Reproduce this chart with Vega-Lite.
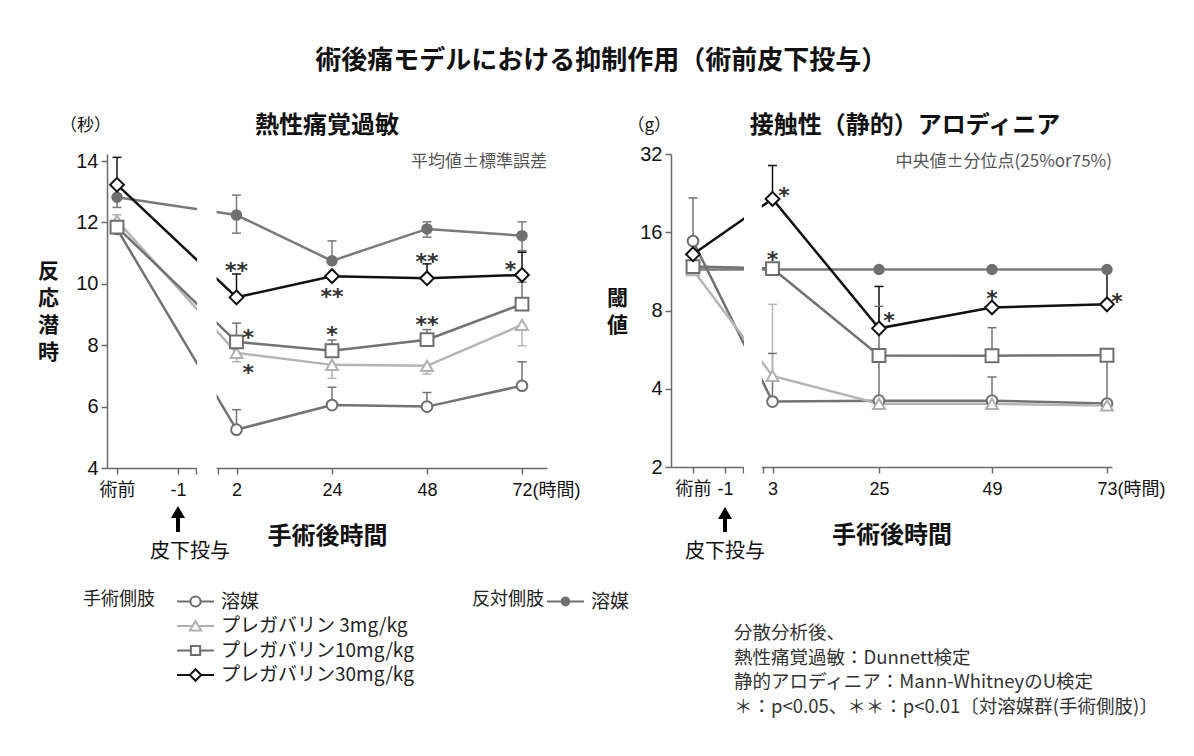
{
  "$schema": "https://vega.github.io/schema/vega-lite/v6.json",
  "background": "#ffffff",
  "padding": {"left": 37, "top": 48, "right": 5, "bottom": 5},
  "title": {"text": "術後痛モデルにおける抑制作用（術前皮下投与）", "font": "Noto Sans CJK JP", "fontSize": 26, "fontWeight": "bold", "color": "#111111", "anchor": "middle", "offset": 40},
  "datasets": {
    "heat": [
      {"series": "反対側肢 溶媒", "t": -2, "value": 12.82, "lo": 12.49, "hi": 13.15},
      {"series": "反対側肢 溶媒", "t": 2, "value": 12.24, "lo": 11.65, "hi": 12.89},
      {"series": "反対側肢 溶媒", "t": 24, "value": 10.75, "lo": 10.75, "hi": 11.40},
      {"series": "反対側肢 溶媒", "t": 48, "value": 11.79, "lo": 11.52, "hi": 12.02},
      {"series": "反対側肢 溶媒", "t": 72, "value": 11.57, "lo": 11.08, "hi": 12.02},
      {"series": "手術側肢 溶媒", "t": -2, "value": 11.79},
      {"series": "手術側肢 溶媒", "t": 2, "value": 5.25, "lo": 5.25, "hi": 5.90},
      {"series": "手術側肢 溶媒", "t": 24, "value": 6.05, "lo": 6.05, "hi": 6.63},
      {"series": "手術側肢 溶媒", "t": 48, "value": 6.00, "lo": 6.00, "hi": 6.46},
      {"series": "手術側肢 溶媒", "t": 72, "value": 6.68, "lo": 6.68, "hi": 7.46},
      {"series": "手術側肢 プレガバリン 3mg/kg", "t": -2, "value": 12.06, "lo": 12.06, "hi": 12.25},
      {"series": "手術側肢 プレガバリン 3mg/kg", "t": 2, "value": 7.75, "lo": 7.46, "hi": 7.75},
      {"series": "手術側肢 プレガバリン 3mg/kg", "t": 24, "value": 7.36, "lo": 6.92, "hi": 7.36},
      {"series": "手術側肢 プレガバリン 3mg/kg", "t": 48, "value": 7.33, "lo": 7.06, "hi": 7.33},
      {"series": "手術側肢 プレガバリン 3mg/kg", "t": 72, "value": 8.66, "lo": 7.98, "hi": 8.66},
      {"series": "手術側肢 プレガバリン10mg/kg", "t": -2, "value": 11.85},
      {"series": "手術側肢 プレガバリン10mg/kg", "t": 2, "value": 8.11, "lo": 8.11, "hi": 8.72},
      {"series": "手術側肢 プレガバリン10mg/kg", "t": 24, "value": 7.82, "lo": 7.82, "hi": 8.17},
      {"series": "手術側肢 プレガバリン10mg/kg", "t": 48, "value": 8.18, "lo": 8.18, "hi": 8.51},
      {"series": "手術側肢 プレガバリン10mg/kg", "t": 72, "value": 9.34, "lo": 9.34, "hi": 10.05},
      {"series": "手術側肢 プレガバリン30mg/kg", "t": -2, "value": 13.23, "lo": 13.23, "hi": 14.12},
      {"series": "手術側肢 プレガバリン30mg/kg", "t": 2, "value": 9.56, "lo": 9.56, "hi": 10.32},
      {"series": "手術側肢 プレガバリン30mg/kg", "t": 24, "value": 10.25},
      {"series": "手術側肢 プレガバリン30mg/kg", "t": 48, "value": 10.18, "lo": 10.18, "hi": 10.65},
      {"series": "手術側肢 プレガバリン30mg/kg", "t": 72, "value": 10.29, "lo": 10.29, "hi": 11.03}
    ],
    "allo": [
      {"series": "反対側肢 溶媒", "t": -2, "value": 11.5},
      {"series": "反対側肢 溶媒", "t": 3, "value": 11.5},
      {"series": "反対側肢 溶媒", "t": 25, "value": 11.5},
      {"series": "反対側肢 溶媒", "t": 49, "value": 11.5},
      {"series": "反対側肢 溶媒", "t": 73, "value": 11.5},
      {"series": "手術側肢 溶媒", "t": -2, "value": 14.8, "lo": 14.8, "hi": 21.7},
      {"series": "手術側肢 溶媒", "t": 3, "value": 3.57, "lo": 3.57, "hi": 5.47},
      {"series": "手術側肢 溶媒", "t": 25, "value": 3.6},
      {"series": "手術側肢 溶媒", "t": 49, "value": 3.6, "lo": 3.6, "hi": 4.44},
      {"series": "手術側肢 溶媒", "t": 73, "value": 3.51},
      {"series": "手術側肢 プレガバリン 3mg/kg", "t": -2, "value": 11.45},
      {"series": "手術側肢 プレガバリン 3mg/kg", "t": 3, "value": 4.48, "lo": 4.48, "hi": 8.45},
      {"series": "手術側肢 プレガバリン 3mg/kg", "t": 25, "value": 3.5},
      {"series": "手術側肢 プレガバリン 3mg/kg", "t": 49, "value": 3.5},
      {"series": "手術側肢 プレガバリン 3mg/kg", "t": 73, "value": 3.45},
      {"series": "手術側肢 プレガバリン10mg/kg", "t": -2, "value": 11.8},
      {"series": "手術側肢 プレガバリン10mg/kg", "t": 3, "value": 11.6},
      {"series": "手術側肢 プレガバリン10mg/kg", "t": 25, "value": 5.37, "lo": 3.6, "hi": 8.3},
      {"series": "手術側肢 プレガバリン10mg/kg", "t": 49, "value": 5.36, "lo": 5.36, "hi": 6.87},
      {"series": "手術側肢 プレガバリン10mg/kg", "t": 73, "value": 5.38, "lo": 3.5, "hi": 5.38},
      {"series": "手術側肢 プレガバリン30mg/kg", "t": -2, "value": 13.16},
      {"series": "手術側肢 プレガバリン30mg/kg", "t": 3, "value": 21.5, "lo": 21.5, "hi": 28.9},
      {"series": "手術側肢 プレガバリン30mg/kg", "t": 25, "value": 6.83, "lo": 6.83, "hi": 9.9},
      {"series": "手術側肢 プレガバリン30mg/kg", "t": 49, "value": 8.22},
      {"series": "手術側肢 プレガバリン30mg/kg", "t": 73, "value": 8.45, "lo": 8.45, "hi": 11.4}
    ],
    "heatStars": [
      {"t": 2, "value": 10.61, "label": "**"},
      {"t": 24, "value": 9.78, "label": "**"},
      {"t": 48, "value": 10.92, "label": "**"},
      {"t": 69.1, "value": 10.65, "label": "*"},
      {"t": 4.72, "value": 8.44, "label": "*"},
      {"t": 4.72, "value": 7.28, "label": "*"},
      {"t": 24, "value": 8.53, "label": "*"},
      {"t": 48, "value": 8.85, "label": "**"}
    ],
    "alloStars": [
      {"t": 5.4, "value": 23.3, "label": "*"},
      {"t": 3, "value": 13.2, "label": "*"},
      {"t": 27.1, "value": 7.69, "label": "*"},
      {"t": 49, "value": 9.34, "label": "*"},
      {"t": 75.1, "value": 9.12, "label": "*"}
    ],
    "heatBreak": [{"t": -0.02, "t2": 0.98, "value": 3.85, "value2": 14.3}],
    "alloBreak": [{"t": 0.6, "t2": 2.1, "value": 1.9, "value2": 33}],
    "heatDosing": [{"t": -1, "lo": 1.915, "hi": 2.40, "value": 2.566, "labelAt": 1.263, "label": "皮下投与"}],
    "alloDosing": [{"t": -1, "lo": 1.124, "hi": 1.28, "value": 1.331, "labelAt": 0.942, "label": "皮下投与"}],
    "heatTitle": [{"t": 22.85, "value": 15.14, "label": "熱性痛覚過敏"}],
    "heatUnit": [{"t": -2.18, "value": 15.14, "label": "（秒）"}],
    "heatNote": [{"t": 78.3, "value": 13.97, "label": "平均値±標準誤差"}],
    "alloTitle": [{"t": 30.52, "value": 41.0, "label": "接触性（静的）アロディニア"}],
    "alloUnit": [{"t": -2.69, "value": 41.0, "label": "（g）"}],
    "alloNote": [{"t": 74.05, "value": 29.81, "label": "中央値±分位点(25%or75%)"}],
    "stats": [{"t": -0.242, "value": 0.497, "label": ["分散分析後、", "熱性痛覚過敏：Dunnett検定", "静的アロディニア：Mann-WhitneyのU検定", "＊：p<0.05、＊＊：p<0.01〔対溶媒群(手術側肢)〕"]}],
    "legendSurgical": [{"treatment": "溶媒"}, {"treatment": "プレガバリン 3mg/kg"}, {"treatment": "プレガバリン10mg/kg"}, {"treatment": "プレガバリン30mg/kg"}],
    "legendContra": [{"treatment": "溶媒"}]
  },
  "spacing": 124,
  "bounds": "flush",
  "hconcat": [
    {
      "width": 440,
      "height": 314,
      "layer": [
        {
          "data": {"name": "heat"},
          "encoding": {
            "x": {
              "field": "t", "type": "quantitative",
              "scale": {"type": "linear", "domain": [-2.18, -2, -1, 2, 24, 48, 72, 78.3], "range": [0, 10, 71, 129.5, 225, 320, 415, 440], "nice": false, "zero": false},
              "axis": {
                "values": [-2, -1, -0.08, 1.05, 2, 24, 48, 72],
                "labelExpr": "datum.value == -2 ? '術前' : datum.value == -1 ? '-1' : (datum.value > -1 && datum.value < 1.5) ? '' : datum.value == 72 ? '72(時間)' : datum.label",
                "labelAlign": {"condition": {"test": "datum.value == 72", "value": "left"}, "value": "center"},
                "labelOffset": {"condition": {"test": "datum.value == 72", "value": -10}, "value": 0},
                "title": "手術後時間", "titleFont": "Noto Sans CJK JP", "titleFontSize": 24, "titleFontWeight": "bold", "titlePadding": 25, "titleColor": "#111111",
                "labelFont": "Liberation Sans, Noto Sans CJK JP", "labelFontSize": 18, "labelPadding": 7, "labelColor": "#111111",
                "labelFlush": false, "labelOverlap": false, "labelBound": false,
                "tickSize": 6, "tickWidth": 1.5, "tickColor": "#6a6a6a", "domainColor": "#6a6a6a", "domainWidth": 1.5, "grid": false
              }
            },
            "y": {
              "field": "value", "type": "quantitative",
              "scale": {"domain": [4, 14.23], "nice": false, "zero": false},
              "axis": {
                "values": [4, 6, 8, 10, 12, 14],
                "title": ["反", "応", "潜", "時"], "titleAngle": 0, "titleAlign": "center", "titleBaseline": "top", "titleX": -59, "titleY": 106,
                "titleFont": "Noto Sans CJK JP", "titleFontSize": 21, "titleFontWeight": "bold", "titleLineHeight": 27, "titleColor": "#111111",
                "labelFont": "Liberation Sans", "labelFontSize": 20, "labelPadding": 3, "labelColor": "#111111", "labelFlush": false,
                "tickSize": 6, "tickWidth": 1.5, "tickColor": "#6a6a6a", "domainColor": "#6a6a6a", "domainWidth": 1.5, "grid": false
              }
            }
          },
          "layer": [
            {
              "mark": {"type": "line", "strokeWidth": 2.5},
              "encoding": {
                "color": {"field": "series", "type": "nominal", "legend": null, "scale": {"domain": ["反対側肢 溶媒", "手術側肢 溶媒", "手術側肢 プレガバリン 3mg/kg", "手術側肢 プレガバリン10mg/kg", "手術側肢 プレガバリン30mg/kg"], "range": ["#7a7a7a", "#727272", "#b5b5b5", "#727272", "#111111"]}},
                "order": {"field": "t", "type": "quantitative"}
              }
            },
            {
              "data": {"name": "heatBreak"},
              "mark": {"type": "rect", "fill": "#ffffff"},
              "encoding": {"x2": {"field": "t2"}, "y2": {"field": "value2"}}
            },
            {
              "transform": [{"filter": "isValid(datum.lo)"}],
              "mark": {"type": "rule", "strokeWidth": 1.5},
              "encoding": {
                "y": {"field": "lo", "type": "quantitative"}, "y2": {"field": "hi"},
                "color": {"field": "series", "type": "nominal", "legend": null}
              }
            },
            {
              "transform": [{"filter": "isValid(datum.lo) && datum.lo < datum.value"}],
              "mark": {"type": "tick", "orient": "horizontal", "size": 9, "thickness": 1.5, "opacity": 1},
              "encoding": {"y": {"field": "lo", "type": "quantitative"}, "color": {"field": "series", "type": "nominal", "legend": null}}
            },
            {
              "transform": [{"filter": "isValid(datum.hi) && datum.hi > datum.value"}],
              "mark": {"type": "tick", "orient": "horizontal", "size": 9, "thickness": 1.5, "opacity": 1},
              "encoding": {"y": {"field": "hi", "type": "quantitative"}, "color": {"field": "series", "type": "nominal", "legend": null}}
            },
            {
              "mark": {"type": "point", "opacity": 1, "strokeWidth": 2},
              "encoding": {
                "shape": {"field": "series", "type": "nominal", "legend": null, "scale": {"domain": ["反対側肢 溶媒", "手術側肢 溶媒", "手術側肢 プレガバリン 3mg/kg", "手術側肢 プレガバリン10mg/kg", "手術側肢 プレガバリン30mg/kg"], "range": ["circle", "circle", "triangle-up", "square", "diamond"]}},
                "stroke": {"field": "series", "type": "nominal", "legend": null, "scale": {"domain": ["反対側肢 溶媒", "手術側肢 溶媒", "手術側肢 プレガバリン 3mg/kg", "手術側肢 プレガバリン10mg/kg", "手術側肢 プレガバリン30mg/kg"], "range": ["#707070", "#6e6e6e", "#b0b0b0", "#6e6e6e", "#111111"]}},
                "fill": {"field": "series", "type": "nominal", "legend": null, "scale": {"domain": ["反対側肢 溶媒", "手術側肢 溶媒", "手術側肢 プレガバリン 3mg/kg", "手術側肢 プレガバリン10mg/kg", "手術側肢 プレガバリン30mg/kg"], "range": ["#707070", "#ffffff", "#ffffff", "#ffffff", "#ffffff"]}},
                "size": {"field": "series", "type": "nominal", "legend": null, "scale": {"domain": ["反対側肢 溶媒", "手術側肢 溶媒", "手術側肢 プレガバリン 3mg/kg", "手術側肢 プレガバリン10mg/kg", "手術側肢 プレガバリン30mg/kg"], "range": [90, 190, 190, 150, 170]}}
              }
            },
            {
              "data": {"name": "heatStars"},
              "mark": {"type": "text", "font": "DejaVu Sans", "fontSize": 22, "fontWeight": "bold", "color": "#333333", "baseline": "middle", "align": "center", "dy": 6},
              "encoding": {"text": {"field": "label"}}
            },
            {
              "data": {"name": "heatNote"},
              "mark": {"type": "text", "align": "right", "baseline": "middle", "fontSize": 17, "color": "#555555"},
              "encoding": {"text": {"field": "label"}}
            },
            {
              "data": {"name": "heatTitle"},
              "mark": {"type": "text", "align": "center", "baseline": "middle", "fontSize": 24, "fontWeight": "bold", "color": "#111111"},
              "encoding": {"text": {"field": "label"}}
            },
            {
              "data": {"name": "heatUnit"},
              "mark": {"type": "text", "align": "right", "baseline": "middle", "fontSize": 17, "dx": 4, "color": "#111111"},
              "encoding": {"text": {"field": "label"}}
            },
            {
              "data": {"name": "heatDosing"},
              "layer": [
                {"mark": {"type": "rule", "strokeWidth": 4, "color": "#000000"}, "encoding": {"y": {"field": "lo", "type": "quantitative"}, "y2": {"field": "hi"}}},
                {"mark": {"type": "point", "shape": "triangle-up", "filled": true, "size": 196, "color": "#000000", "opacity": 1}},
                {"mark": {"type": "text", "fontSize": 20, "baseline": "middle", "align": "center", "dx": 12, "color": "#111111"}, "encoding": {"y": {"field": "labelAt", "type": "quantitative"}, "text": {"field": "label"}}}
              ]
            }
          ]
        },
        {
          "data": {"name": "legendSurgical"},
          "transform": [{"filter": "false"}],
          "mark": {"type": "point", "opacity": 1},
          "encoding": {
            "shape": {"field": "treatment", "type": "nominal",
              "scale": {"domain": ["溶媒", "プレガバリン 3mg/kg", "プレガバリン10mg/kg", "プレガバリン30mg/kg"], "range": ["M-2,0L-0.55,0M0.55,0L2,0M-0.55,0A0.55,0.55,0,1,1,0.55,0A0.55,0.55,0,1,1,-0.55,0Z", "M-2,0L-0.33,0M0.33,0L2,0M0,-0.55L0.62,0.5L-0.62,0.5Z", "M-2,0L-0.5,0M0.5,0L2,0M-0.5,-0.5L0.5,-0.5L0.5,0.5L-0.5,0.5Z", "M-2,0L-0.62,0M0.62,0L2,0M0,-0.62L0.62,0L0,0.62L-0.62,0Z"]},
              "legend": {"title": "手術側肢", "orient": "none", "legendX": -24, "legendY": 437, "titleOrient": "left", "titleAnchor": "start", "titleBaseline": "top", "titleFont": "Noto Sans CJK JP", "titleFontSize": 18, "titleFontWeight": "normal", "titleColor": "#222222", "titlePadding": 30, "labelFont": "Noto Sans CJK JP", "labelFontSize": 19, "labelColor": "#222222", "labelOffset": 15, "labelLimit": 400, "symbolSize": 342, "symbolStrokeWidth": 2, "rowPadding": 3.5, "padding": 0}},
            "stroke": {"field": "treatment", "type": "nominal",
              "scale": {"domain": ["溶媒", "プレガバリン 3mg/kg", "プレガバリン10mg/kg", "プレガバリン30mg/kg"], "range": ["#6e6e6e", "#b0b0b0", "#6e6e6e", "#111111"]},
              "legend": {"title": "手術側肢", "orient": "none", "legendX": -24, "legendY": 437, "titleOrient": "left", "titleAnchor": "start", "titleBaseline": "top", "titleFont": "Noto Sans CJK JP", "titleFontSize": 18, "titleFontWeight": "normal", "titleColor": "#222222", "titlePadding": 30, "labelFont": "Noto Sans CJK JP", "labelFontSize": 19, "labelColor": "#222222", "labelOffset": 15, "labelLimit": 400, "symbolSize": 342, "symbolStrokeWidth": 2, "rowPadding": 3.5, "padding": 0}},
            "fill": {"field": "treatment", "type": "nominal",
              "scale": {"domain": ["溶媒", "プレガバリン 3mg/kg", "プレガバリン10mg/kg", "プレガバリン30mg/kg"], "range": ["#ffffff", "#ffffff", "#ffffff", "#ffffff"]},
              "legend": {"title": "手術側肢", "orient": "none", "legendX": -24, "legendY": 437, "titleOrient": "left", "titleAnchor": "start", "titleBaseline": "top", "titleFont": "Noto Sans CJK JP", "titleFontSize": 18, "titleFontWeight": "normal", "titleColor": "#222222", "titlePadding": 30, "labelFont": "Noto Sans CJK JP", "labelFontSize": 19, "labelColor": "#222222", "labelOffset": 15, "labelLimit": 400, "symbolSize": 342, "symbolStrokeWidth": 2, "rowPadding": 3.5, "padding": 0}}
          }
        },
        {
          "data": {"name": "legendContra"},
          "transform": [{"filter": "false"}],
          "mark": {"type": "point", "opacity": 1},
          "encoding": {
            "shape": {"field": "treatment", "type": "nominal",
              "scale": {"domain": ["溶媒"], "range": ["M-2,0L-0.42,0M0.42,0L2,0M-0.42,0A0.42,0.42,0,1,1,0.42,0A0.42,0.42,0,1,1,-0.42,0Z"]},
              "legend": {"title": "反対側肢", "orient": "none", "legendX": 365, "legendY": 437, "titleOrient": "left", "titleAnchor": "start", "titleBaseline": "top", "titleFont": "Noto Sans CJK JP", "titleFontSize": 18, "titleFontWeight": "normal", "titleColor": "#222222", "titlePadding": 11, "labelFont": "Noto Sans CJK JP", "labelFontSize": 19, "labelColor": "#222222", "labelOffset": 15, "labelLimit": 400, "symbolSize": 342, "symbolStrokeWidth": 2, "rowPadding": 3.5, "padding": 0}},
            "stroke": {"field": "treatment", "type": "nominal",
              "scale": {"domain": ["溶媒"], "range": ["#707070"]},
              "legend": {"title": "反対側肢", "orient": "none", "legendX": 365, "legendY": 437, "titleOrient": "left", "titleAnchor": "start", "titleBaseline": "top", "titleFont": "Noto Sans CJK JP", "titleFontSize": 18, "titleFontWeight": "normal", "titleColor": "#222222", "titlePadding": 11, "labelFont": "Noto Sans CJK JP", "labelFontSize": 19, "labelColor": "#222222", "labelOffset": 15, "labelLimit": 400, "symbolSize": 342, "symbolStrokeWidth": 2, "rowPadding": 3.5, "padding": 0}},
            "fill": {"field": "treatment", "type": "nominal",
              "scale": {"domain": ["溶媒"], "range": ["#707070"]},
              "legend": {"title": "反対側肢", "orient": "none", "legendX": 365, "legendY": 437, "titleOrient": "left", "titleAnchor": "start", "titleBaseline": "top", "titleFont": "Noto Sans CJK JP", "titleFontSize": 18, "titleFontWeight": "normal", "titleColor": "#222222", "titlePadding": 11, "labelFont": "Noto Sans CJK JP", "labelFontSize": 19, "labelColor": "#222222", "labelOffset": 15, "labelLimit": 400, "symbolSize": 342, "symbolStrokeWidth": 2, "rowPadding": 3.5, "padding": 0}}
          }
        }
      ],
      "resolve": {"scale": {"shape": "independent", "stroke": "independent", "fill": "independent"}}
    },
    {
      "width": 441,
      "height": 313,
      "data": {"name": "allo"},
      "encoding": {
        "x": {
          "field": "t", "type": "quantitative",
          "scale": {"type": "linear", "domain": [-2.69, -2, -1, 3, 25, 49, 73, 74.05], "range": [0, 22, 54, 101.5, 208, 321, 436, 441], "nice": false, "zero": false},
          "axis": {
            "values": [-2, -1, 0.51, 2.19, 3, 25, 49, 73],
            "labelExpr": "datum.value == -2 ? '術前' : datum.value == -1 ? '-1' : (datum.value > -1 && datum.value < 2.5) ? '' : datum.value == 73 ? '73(時間)' : datum.label",
            "labelAlign": {"condition": {"test": "datum.value == 73", "value": "left"}, "value": "center"},
            "labelOffset": {"condition": {"test": "datum.value == 73", "value": -10}, "value": 0},
            "title": "手術後時間", "titleFont": "Noto Sans CJK JP", "titleFontSize": 24, "titleFontWeight": "bold", "titlePadding": 25, "titleColor": "#111111",
            "labelFont": "Liberation Sans, Noto Sans CJK JP", "labelFontSize": 18, "labelPadding": 7, "labelColor": "#111111",
            "labelFlush": false, "labelOverlap": false, "labelBound": false,
            "tickSize": 6, "tickWidth": 1.5, "tickColor": "#6a6a6a", "domainColor": "#6a6a6a", "domainWidth": 1.5, "grid": false
          }
        },
        "y": {
          "field": "value", "type": "quantitative",
          "scale": {"type": "log", "base": 2, "domain": [2, 32], "nice": false},
          "axis": {
            "values": [2, 4, 8, 16, 32], "format": "d",
            "title": ["閾", "値"], "titleAngle": 0, "titleAlign": "center", "titleBaseline": "top", "titleX": -54, "titleY": 133,
            "titleFont": "Noto Sans CJK JP", "titleFontSize": 21, "titleFontWeight": "bold", "titleLineHeight": 27, "titleColor": "#111111",
            "labelFont": "Liberation Sans", "labelFontSize": 20, "labelPadding": 3, "labelColor": "#111111", "labelFlush": false,
            "tickSize": 6, "tickWidth": 1.5, "tickColor": "#6a6a6a", "domainColor": "#6a6a6a", "domainWidth": 1.5, "grid": false
          }
        }
      },
      "layer": [
        {
          "mark": {"type": "line", "strokeWidth": 2.5},
          "encoding": {
            "color": {"field": "series", "type": "nominal", "legend": null, "scale": {"domain": ["反対側肢 溶媒", "手術側肢 溶媒", "手術側肢 プレガバリン 3mg/kg", "手術側肢 プレガバリン10mg/kg", "手術側肢 プレガバリン30mg/kg"], "range": ["#7a7a7a", "#727272", "#b5b5b5", "#727272", "#111111"]}},
            "order": {"field": "t", "type": "quantitative"}
          }
        },
        {
          "data": {"name": "alloBreak"},
          "mark": {"type": "rect", "fill": "#ffffff"},
          "encoding": {"x2": {"field": "t2"}, "y2": {"field": "value2"}}
        },
        {
          "transform": [{"filter": "isValid(datum.lo)"}],
          "mark": {"type": "rule", "strokeWidth": 1.5},
          "encoding": {
            "y": {"field": "lo", "type": "quantitative"}, "y2": {"field": "hi"},
            "color": {"field": "series", "type": "nominal", "legend": null}
          }
        },
        {
          "transform": [{"filter": "isValid(datum.lo) && datum.lo < datum.value"}],
          "mark": {"type": "tick", "orient": "horizontal", "size": 9, "thickness": 1.5, "opacity": 1},
          "encoding": {"y": {"field": "lo", "type": "quantitative"}, "color": {"field": "series", "type": "nominal", "legend": null}}
        },
        {
          "transform": [{"filter": "isValid(datum.hi) && datum.hi > datum.value"}],
          "mark": {"type": "tick", "orient": "horizontal", "size": 9, "thickness": 1.5, "opacity": 1},
          "encoding": {"y": {"field": "hi", "type": "quantitative"}, "color": {"field": "series", "type": "nominal", "legend": null}}
        },
        {
          "mark": {"type": "point", "opacity": 1, "strokeWidth": 2},
          "encoding": {
            "shape": {"field": "series", "type": "nominal", "legend": null, "scale": {"domain": ["反対側肢 溶媒", "手術側肢 溶媒", "手術側肢 プレガバリン 3mg/kg", "手術側肢 プレガバリン10mg/kg", "手術側肢 プレガバリン30mg/kg"], "range": ["circle", "circle", "triangle-up", "square", "diamond"]}},
            "stroke": {"field": "series", "type": "nominal", "legend": null, "scale": {"domain": ["反対側肢 溶媒", "手術側肢 溶媒", "手術側肢 プレガバリン 3mg/kg", "手術側肢 プレガバリン10mg/kg", "手術側肢 プレガバリン30mg/kg"], "range": ["#707070", "#6e6e6e", "#b0b0b0", "#6e6e6e", "#111111"]}},
            "fill": {"field": "series", "type": "nominal", "legend": null, "scale": {"domain": ["反対側肢 溶媒", "手術側肢 溶媒", "手術側肢 プレガバリン 3mg/kg", "手術側肢 プレガバリン10mg/kg", "手術側肢 プレガバリン30mg/kg"], "range": ["#707070", "#ffffff", "#ffffff", "#ffffff", "#ffffff"]}},
            "size": {"field": "series", "type": "nominal", "legend": null, "scale": {"domain": ["反対側肢 溶媒", "手術側肢 溶媒", "手術側肢 プレガバリン 3mg/kg", "手術側肢 プレガバリン10mg/kg", "手術側肢 プレガバリン30mg/kg"], "range": [90, 190, 190, 170, 200]}}
          }
        },
        {
          "data": {"name": "alloStars"},
          "mark": {"type": "text", "font": "DejaVu Sans", "fontSize": 22, "fontWeight": "bold", "color": "#333333", "baseline": "middle", "align": "center", "dy": 6},
          "encoding": {"text": {"field": "label"}}
        },
        {
          "data": {"name": "alloNote"},
          "mark": {"type": "text", "align": "right", "baseline": "middle", "fontSize": 17, "color": "#555555"},
          "encoding": {"text": {"field": "label"}}
        },
        {
          "data": {"name": "alloTitle"},
          "mark": {"type": "text", "align": "center", "baseline": "middle", "fontSize": 24, "fontWeight": "bold", "color": "#111111"},
          "encoding": {"text": {"field": "label"}}
        },
        {
          "data": {"name": "alloUnit"},
          "mark": {"type": "text", "align": "right", "baseline": "middle", "fontSize": 17, "color": "#111111"},
          "encoding": {"text": {"field": "label"}}
        },
        {
          "data": {"name": "alloDosing"},
          "layer": [
            {"mark": {"type": "rule", "strokeWidth": 4, "color": "#000000"}, "encoding": {"y": {"field": "lo", "type": "quantitative"}, "y2": {"field": "hi"}}},
            {"mark": {"type": "point", "shape": "triangle-up", "filled": true, "size": 196, "color": "#000000", "opacity": 1}},
            {"mark": {"type": "text", "fontSize": 20, "baseline": "middle", "align": "center", "color": "#111111"}, "encoding": {"y": {"field": "labelAt", "type": "quantitative"}, "text": {"field": "label"}}}
          ]
        },
        {
          "data": {"name": "stats"},
          "mark": {"type": "text", "align": "left", "baseline": "top", "fontSize": 18.5, "lineHeight": 24.5, "color": "#333333"},
          "encoding": {"text": {"field": "label"}}
        }
      ]
    }
  ],
  "resolve": {"scale": {"color": "independent", "shape": "independent", "stroke": "independent", "fill": "independent", "size": "independent"}},
  "config": {
    "view": {"stroke": null},
    "font": "Noto Sans CJK JP",
    "text": {"font": "Noto Sans CJK JP"}
  }
}
